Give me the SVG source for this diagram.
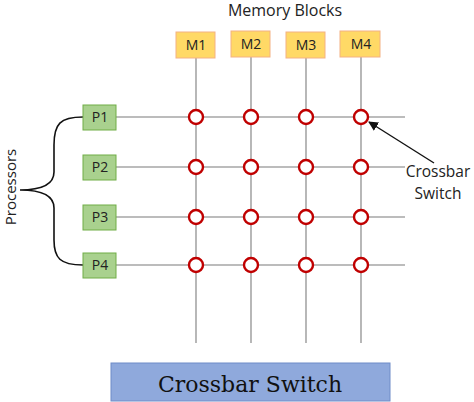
<svg xmlns="http://www.w3.org/2000/svg" width="474" height="402" viewBox="0 0 474 402">
<defs>
<style>
.mem rect{fill:#FFD966;stroke:#F4B183;stroke-width:1}
.proc rect{fill:#A9D18E;stroke:#70AD47;stroke-width:1}
.lbl{font-family:"Open Sans","Liberation Sans",sans-serif;font-size:14px;fill:#222;text-anchor:middle}
.wire{stroke:#A6A6A6;stroke-width:1.6;fill:none}
.sw{fill:#fff;stroke:#C00000;stroke-width:2.4}
.txt{font-family:"Open Sans","Liberation Sans",sans-serif;fill:#222}
</style>
<marker id="ah" viewBox="0 0 10 10" refX="9" refY="5" markerWidth="7" markerHeight="7" orient="auto">
<path d="M0,0 L10,5 L0,10 z" fill="#111"/>
</marker>
</defs>
<rect width="474" height="402" fill="#fff"/>
<g id="connectors">
<line class="wire" x1="196" y1="58" x2="196" y2="343"/>
<line class="wire" x1="251" y1="57" x2="251" y2="343"/>
<line class="wire" x1="306" y1="58" x2="306" y2="343"/>
<line class="wire" x1="361" y1="57" x2="361" y2="343"/>
<line class="wire" x1="116" y1="117" x2="405" y2="117"/>
<line class="wire" x1="116" y1="167" x2="405" y2="167"/>
<line class="wire" x1="116" y1="217" x2="405" y2="217"/>
<line class="wire" x1="116" y1="265" x2="405" y2="265"/>
<path d="M83,117 C60,117 54,124 54,145 L54,172 C54,186 40,190 20,190 C40,190 54,194 54,208 L54,240 C54,258 60,265 83,265" fill="none" stroke="#111" stroke-width="1.6"/>
<line x1="434" y1="163" x2="369" y2="122" stroke="#111" stroke-width="1.4" marker-end="url(#ah)"/>
</g>
<g id="switches">
<circle class="sw" cx="196" cy="117" r="7"/><circle class="sw" cx="251" cy="117" r="7"/><circle class="sw" cx="306" cy="117" r="7"/><circle class="sw" cx="361" cy="117" r="7"/>
<circle class="sw" cx="196" cy="167" r="7"/><circle class="sw" cx="251" cy="167" r="7"/><circle class="sw" cx="306" cy="167" r="7"/><circle class="sw" cx="361" cy="167" r="7"/>
<circle class="sw" cx="196" cy="217" r="7"/><circle class="sw" cx="251" cy="217" r="7"/><circle class="sw" cx="306" cy="217" r="7"/><circle class="sw" cx="361" cy="217" r="7"/>
<circle class="sw" cx="196" cy="265" r="7"/><circle class="sw" cx="251" cy="265" r="7"/><circle class="sw" cx="306" cy="265" r="7"/><circle class="sw" cx="361" cy="265" r="7"/>
</g>
<g id="M1" class="mem"><rect x="176" y="32" width="39" height="26"/><text class="lbl" x="196" y="50">M1</text></g>
<g id="M2" class="mem"><rect x="231" y="31" width="39" height="26"/><text class="lbl" x="251" y="49">M2</text></g>
<g id="M3" class="mem"><rect x="286" y="32" width="39" height="26"/><text class="lbl" x="306" y="50">M3</text></g>
<g id="M4" class="mem"><rect x="340" y="31" width="40" height="26"/><text class="lbl" x="361" y="49">M4</text></g>
<g id="P1" class="proc"><rect x="83" y="105" width="33" height="25"/><text class="lbl" x="100" y="122">P1</text></g>
<g id="P2" class="proc"><rect x="83" y="155" width="33" height="25"/><text class="lbl" x="100" y="172">P2</text></g>
<g id="P3" class="proc"><rect x="83" y="205" width="33" height="25"/><text class="lbl" x="100" y="222">P3</text></g>
<g id="P4" class="proc"><rect x="83" y="253" width="33" height="25"/><text class="lbl" x="100" y="270">P4</text></g>
<text class="txt" x="285" y="16" font-size="16" text-anchor="middle">Memory Blocks</text>
<text class="txt" transform="translate(16,187) rotate(-90)" font-size="15" text-anchor="middle">Processors</text>
<text class="txt" x="438" y="177" font-size="15.5" text-anchor="middle">Crossbar</text>
<text class="txt" x="438" y="199" font-size="15.5" text-anchor="middle">Switch</text>
<g id="crossbar">
<rect x="111" y="363" width="279" height="38" fill="#8FA9DC" stroke="#6F8CC8" stroke-width="1"/>
<text x="250" y="392" font-family="'DejaVu Serif','Liberation Serif',serif" font-size="22" fill="#111" text-anchor="middle">Crossbar Switch</text>
</g>
</svg>
